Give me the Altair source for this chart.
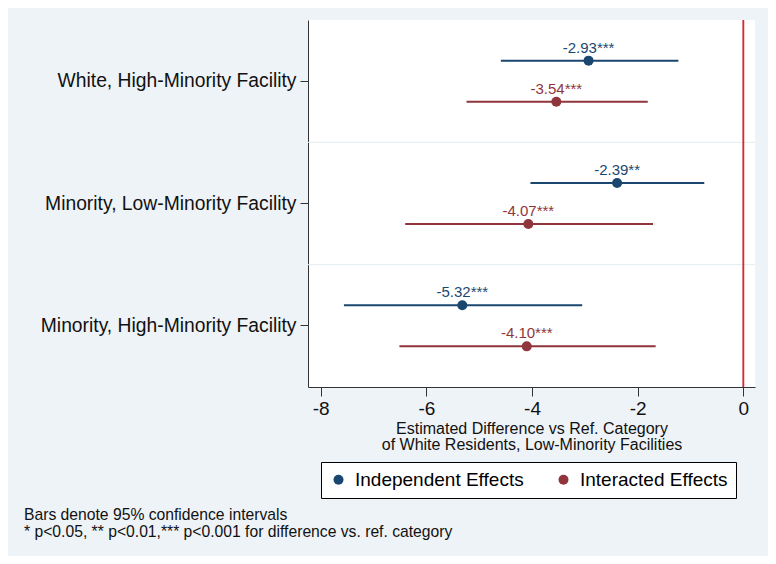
import altair as alt
import pandas as pd

categories = ["White, High-Minority Facility", "Minority, Low-Minority Facility", "Minority, High-Minority Facility"]
series = ["Independent Effects", "Interacted Effects"]
series_colors = ["#1a476f", "#90353b"]

indep_est = [-2.93, -2.39, -5.32]
indep_lo = [-4.59, -4.03, -7.56]
indep_hi = [-1.23, -0.74, -3.05]
indep_sig = ["***", "**", "***"]

inter_est = [-3.54, -4.07, -4.10]
inter_lo = [-5.24, -6.40, -6.51]
inter_hi = [-1.81, -1.71, -1.66]
inter_sig = ["***", "***", "***"]

x_ticks = [-8, -6, -4, -2, 0]
x_title = ["Estimated Difference vs Ref. Category", "of White Residents, Low-Minority Facilities"]
notes = ["Bars denote 95% confidence intervals",
         "* p<0.05, ** p<0.01,*** p<0.001 for difference vs. ref. category"]

FONT = "Liberation Sans, Arial, sans-serif"

rows = []
for s, est, lo, hi, sig in [
    (series[0], indep_est, indep_lo, indep_hi, indep_sig),
    (series[1], inter_est, inter_lo, inter_hi, inter_sig),
]:
    for c, e, l, h, g in zip(categories, est, lo, hi, sig):
        rows.append({"category": c, "series": s, "est": e, "lo": l, "hi": h,
                     "label": f"{e:.2f}{g}"})
df = pd.DataFrame(rows)

grid_df = pd.DataFrame({"category": categories[1:]})
notes_df = pd.DataFrame({"t": ["\n".join(notes)]})

yscale = alt.Scale(domain=categories, paddingInner=0, paddingOuter=0)
xscale = alt.Scale(domain=[-8.24, 0.22], nice=False, zero=False)
cscale = alt.Scale(domain=series, range=series_colors)
offscale = alt.Scale(type="point", padding=0.99)

y_axis = alt.Axis(title=None, labelFontSize=19.3, labelFont=FONT, labelColor="#111111",
                  tickSize=8, labelPadding=4, grid=False, domainColor="#333333",
                  tickColor="#333333", labelLimit=400)
x_axis = alt.Axis(values=x_ticks, title=x_title, titleFontSize=16, titleFont=FONT,
                  titleFontWeight="normal", titleColor="#111111", titleLineHeight=16,
                  titlePadding=2, labelFontSize=19, labelFont=FONT, labelColor="#111111",
                  labelPadding=3, tickSize=9, grid=False, domainColor="#333333",
                  tickColor="#333333", labelExpr="toString(datum.value)")

y_enc = alt.Y("category:N", scale=yscale, sort=categories, axis=y_axis)
x_enc = alt.X("est:Q", scale=xscale, axis=x_axis)
off_enc = alt.YOffset("series:N", scale=offscale, sort=series)

# colour for non-legend layers (no scale -> no extra legend to merge with)
series_color_cond = alt.condition(alt.datum.series == series[0],
                                  alt.value(series_colors[0]), alt.value(series_colors[1]))

base = alt.Chart(df)

grid = alt.Chart(grid_df).mark_rule(color="#e4ecf1", strokeWidth=1).encode(
    y=alt.Y("category:N", scale=yscale, sort=categories, bandPosition=0, axis=y_axis)
)

zero = alt.Chart(grid_df).mark_rule(color="#d42a30", strokeWidth=1.5).encode(
    x=alt.datum(0, scale=xscale, axis=x_axis)
)

ci = base.mark_rule(strokeWidth=2).encode(
    x=alt.X("lo:Q", scale=xscale, axis=x_axis), x2="hi:Q", y=y_enc, yOffset=off_enc,
    color=series_color_cond,
)

pts = base.mark_circle(size=100, opacity=1).encode(
    x=x_enc, y=y_enc, yOffset=off_enc,
    color=alt.Color("series:N", scale=cscale, sort=series,
                    legend=alt.Legend(orient="none", legendX=13, legendY=442, direction="horizontal",
                                      title=None, labelFontSize=19, labelFont=FONT, labelColor="black",
                                      symbolType="circle", symbolSize=100, symbolStrokeWidth=0,
                                      symbolOpacity=1, strokeColor="black", fillColor="white",
                                      padding=8, columnPadding=30, labelOffset=7, labelLimit=400)),
)

labels = base.mark_text(dy=-13, fontSize=15, font=FONT).encode(
    x=x_enc, y=y_enc, yOffset=off_enc, text="label:N",
    color=series_color_cond,
)

note_text = alt.Chart(notes_df).mark_text(align="left", baseline="top", lineBreak="\n",
                                          fontSize=15.7, lineHeight=17, font=FONT, color="#111111").encode(
    x=alt.value(-284), y=alt.value(488), text="t:N"
)

chart = alt.layer(grid, zero, ci, pts, labels, note_text).properties(
    width=447, height=367,
    background="#eef3f7",
    padding={"left": 300, "top": 12, "right": 13, "bottom": 169},
    autosize=alt.AutoSizeParams(type="none"),
).configure_view(fill="white", stroke=None)

chart.save("out.html", embed_options={"renderer": "svg", "actions": False})
